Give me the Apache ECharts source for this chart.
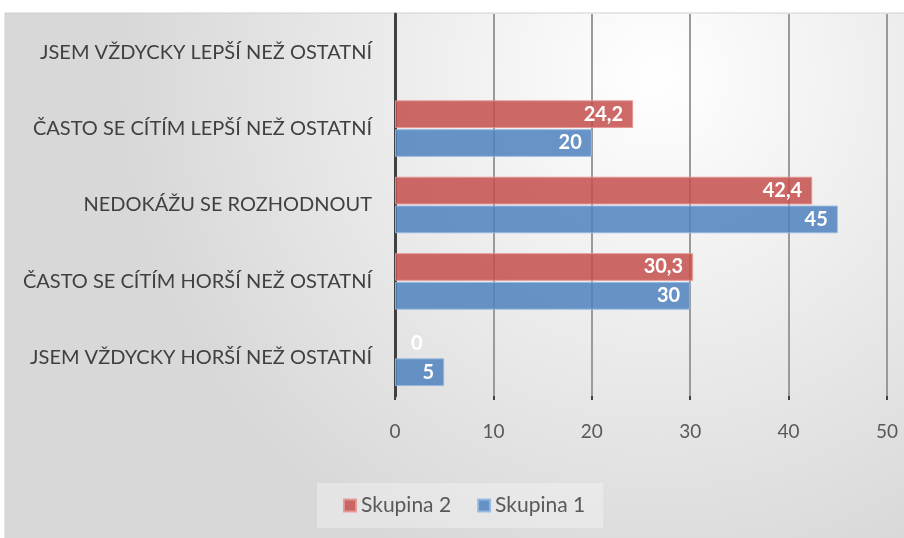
<!DOCTYPE html>
<html>
<head>
<meta charset="utf-8">
<script src="https://cdn.jsdelivr.net/npm/echarts@6/dist/echarts.min.js"></script>
<style>
  html, body { margin: 0; padding: 0; background: #fff; }
  #chart { width: 904px; height: 538px; }
</style>
</head>
<body>
<div id="chart"></div>
<script>
// categories, top to bottom
var categories = [
  'JSEM VŽDYCKY LEPŠÍ NEŽ OSTATNÍ',
  'ČASTO SE CÍTÍM LEPŠÍ NEŽ OSTATNÍ',
  'NEDOKÁŽU SE ROZHODNOUT',
  'ČASTO SE CÍTÍM HORŠÍ NEŽ OSTATNÍ',
  'JSEM VŽDYCKY HORŠÍ NEŽ OSTATNÍ'
];
var skupina2 = [null, 24.2, 42.4, 30.3, 0];
var skupina1 = [null, 20, 45, 30, 5];
var xTicks = [0, 10, 20, 30, 40, 50];

var font = 'Lato, "Open Sans", sans-serif';

function fmt(p) {
  return String(p.value).replace('.', ',');
}

function barData(vals) {
  // zero-length bars get their label just right of the axis
  return vals.map(function (v) {
    if (v === 0) return {
      value: v,
      itemStyle: { borderWidth: 0 },
      label: { position: 'right', distance: 16 }
    };
    return v;
  });
}

var chart = echarts.init(document.getElementById('chart'));

var option = {
  backgroundColor: '#fff',
  animation: false,
  graphic: [{
    type: 'rect',
    z: -10,
    shape: { x: 5, y: 13, width: 904, height: 530 },
    style: {
      fill: {
        type: 'radial', x: 0.72, y: 0.12, r: 1,
        colorStops: [
          { offset: 0, color: '#ffffff' },
          { offset: 1, color: '#d8d8d8' }
        ]
      },
      stroke: '#d0d0d0',
      lineWidth: 1
    },
    silent: true
  }],
  grid: { left: 395, right: 17, top: 14, bottom: 142 },
  legend: {
    data: ['Skupina 2', 'Skupina 1'],
    bottom: 10,
    left: 317,
    itemWidth: 12,
    itemHeight: 12,
    itemGap: 26,
    icon: 'rect',
    padding: [12, 18, 12, 26],
    backgroundColor: 'rgba(255,255,255,0.3)',
    textStyle: { fontFamily: font, fontSize: 21, color: '#595959' }
  },
  xAxis: {
    type: 'value',
    min: xTicks[0],
    max: xTicks[xTicks.length - 1],
    interval: 10,
    axisLine: { show: false },
    axisTick: { show: true, length: 4, lineStyle: { color: '#404040', width: 2 } },
    splitLine: { lineStyle: { color: '#9a9a9a', width: 2 } },
    axisLabel: { fontFamily: font, fontSize: 19, color: '#595959', margin: 26 }
  },
  yAxis: {
    type: 'category',
    data: categories,
    inverse: true,
    axisLine: { show: true, lineStyle: { color: '#404040', width: 3 } },
    axisTick: { show: false },
    axisLabel: { fontFamily: font, fontSize: 20, color: '#404040', margin: 23 }
  },
  series: [
    {
      name: 'Skupina 2',
      type: 'bar',
      data: barData(skupina2),
      barGap: '4%',
      barCategoryGap: '26%',
      itemStyle: { color: 'rgba(196,80,77,0.85)', borderColor: 'rgba(230,150,148,0.9)', borderWidth: 1 },
      label: {
        show: true, position: 'insideRight', distance: 10,
        color: '#fff', fontFamily: font, fontWeight: 'bold', fontSize: 20,
        formatter: fmt
      }
    },
    {
      name: 'Skupina 1',
      type: 'bar',
      data: barData(skupina1),
      barGap: '4%',
      barCategoryGap: '26%',
      itemStyle: { color: 'rgba(79,129,189,0.85)', borderColor: 'rgba(150,185,225,0.9)', borderWidth: 1 },
      label: {
        show: true, position: 'insideRight', distance: 10,
        color: '#fff', fontFamily: font, fontWeight: 'bold', fontSize: 20,
        formatter: fmt
      }
    }
  ]
};

chart.setOption(option);
</script>
</body>
</html>
